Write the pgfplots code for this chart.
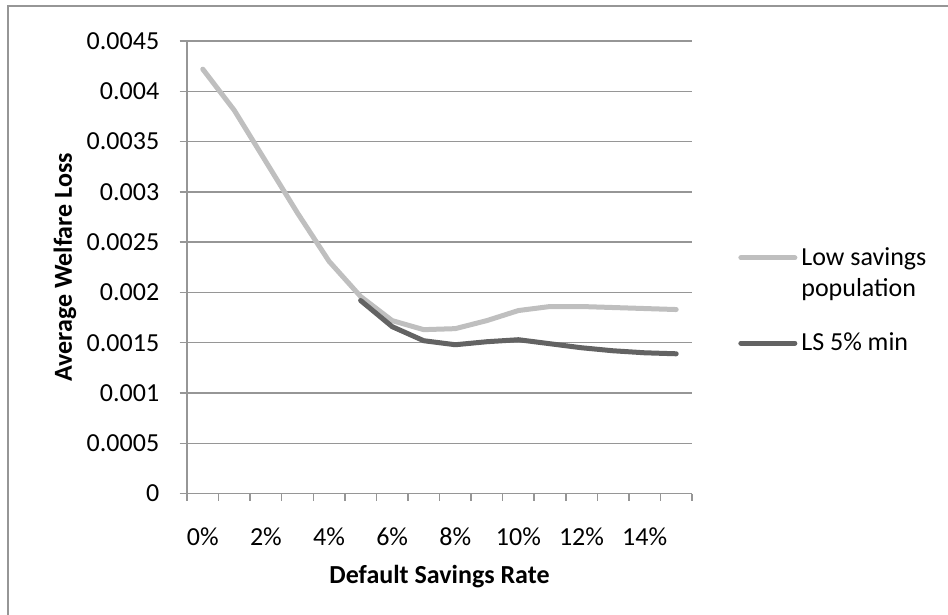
\documentclass[border=0pt]{standalone}
\usepackage{fontspec}
\setmainfont{Carlito}
\usepackage{pgfplots}
\pgfplotsset{compat=1.18}
\definecolor{lightline}{RGB}{191,191,191}
\definecolor{darkline}{RGB}{99,99,99}
\definecolor{gridc}{RGB}{150,150,150}
\pgfplotsset{
  legimgA/.style={legend image code/.code={\draw[##1] (0pt,7.9pt) -- (27pt,7.9pt);}},
  legimgB/.style={legend image code/.code={\draw[##1] (0pt,0pt) -- (27pt,0pt);}},
}
\begin{document}
\begin{tikzpicture}[font=\fontsize{13}{15.75}\selectfont]
\useasboundingbox (0,0) rectangle (474pt,307.5pt);
\draw[gridc, line width=0.75pt] (4pt,-5pt) -- (4pt,304.5pt) -- (480pt,304.5pt);
\begin{axis}[
  at={(93.5pt,60.7pt)}, anchor=south west,
  scale only axis, width=252.5pt, height=226.3pt,
  xmin=-0.5, xmax=15.5, ymin=0, ymax=0.0045,
  scaled y ticks=false,
  axis x line*=bottom, axis y line*=left,
  axis line style={gridc, line width=0.75pt, -},
  xtick={-0.5,0.5,1.5,2.5,3.5,4.5,5.5,6.5,7.5,8.5,9.5,10.5,11.5,12.5,13.5,14.5,15.5},
  x tick label as interval,
  xticklabels={0\%,,2\%,,4\%,,6\%,,8\%,,10\%,,12\%,,14\%,{}},
  ytick={0,0.0005,0.001,0.0015,0.002,0.0025,0.003,0.0035,0.004,0.0045},
  yticklabels={0,0.0005,0.001,0.0015,0.002,0.0025,0.003,0.0035,0.004,0.0045},
  tick align=outside, major tick length=3.7pt,
  tick style={gridc, line width=0.75pt},
  ymajorgrids, major grid style={gridc, line width=0.75pt},
  yticklabel style={inner sep=0pt, xshift=-10pt},
  xticklabel style={inner sep=0pt, yshift=-13pt},
  xlabel={Default Savings Rate},
  ylabel={Average Welfare Loss},
  xlabel style={font=\fontsize{13}{15.75}\selectfont\bfseries, at={(axis description cs:0.5,-0.184)}, anchor=center},
  ylabel style={font=\fontsize{13}{15.75}\selectfont\bfseries, at={(axis description cs:-0.2416,0.5)}, anchor=center},
  legend style={at={(axis description cs:1.091,0.545)}, anchor=north west,
    draw=none, fill=none, inner sep=0pt, row sep=16.5pt, column sep=2pt,
    nodes={inner sep=0pt, align=left}},
  legend cell align=left,
]
\addplot[lightline, line width=2.5pt, line join=round, line cap=round, legimgA]
  coordinates {(0,0.00422)(1,0.00381)(2,0.00330)(3,0.00279)(4,0.00231)(5,0.00196)
  (6,0.00172)(7,0.00163)(8,0.00164)(9,0.00172)(10,0.00182)(11,0.00186)
  (12,0.00186)(13,0.00185)(14,0.00184)(15,0.00183)};
\addlegendentry{Low savings\\population}
\addplot[darkline, line width=2.5pt, line join=round, line cap=round, legimgB]
  coordinates {(5,0.00192)(6,0.00166)(7,0.00152)(8,0.00148)(9,0.00151)
  (10,0.00153)(11,0.00149)(12,0.00145)(13,0.00142)(14,0.00140)(15,0.00139)};
\addlegendentry{LS 5\% min}
\end{axis}
\end{tikzpicture}
\end{document}
